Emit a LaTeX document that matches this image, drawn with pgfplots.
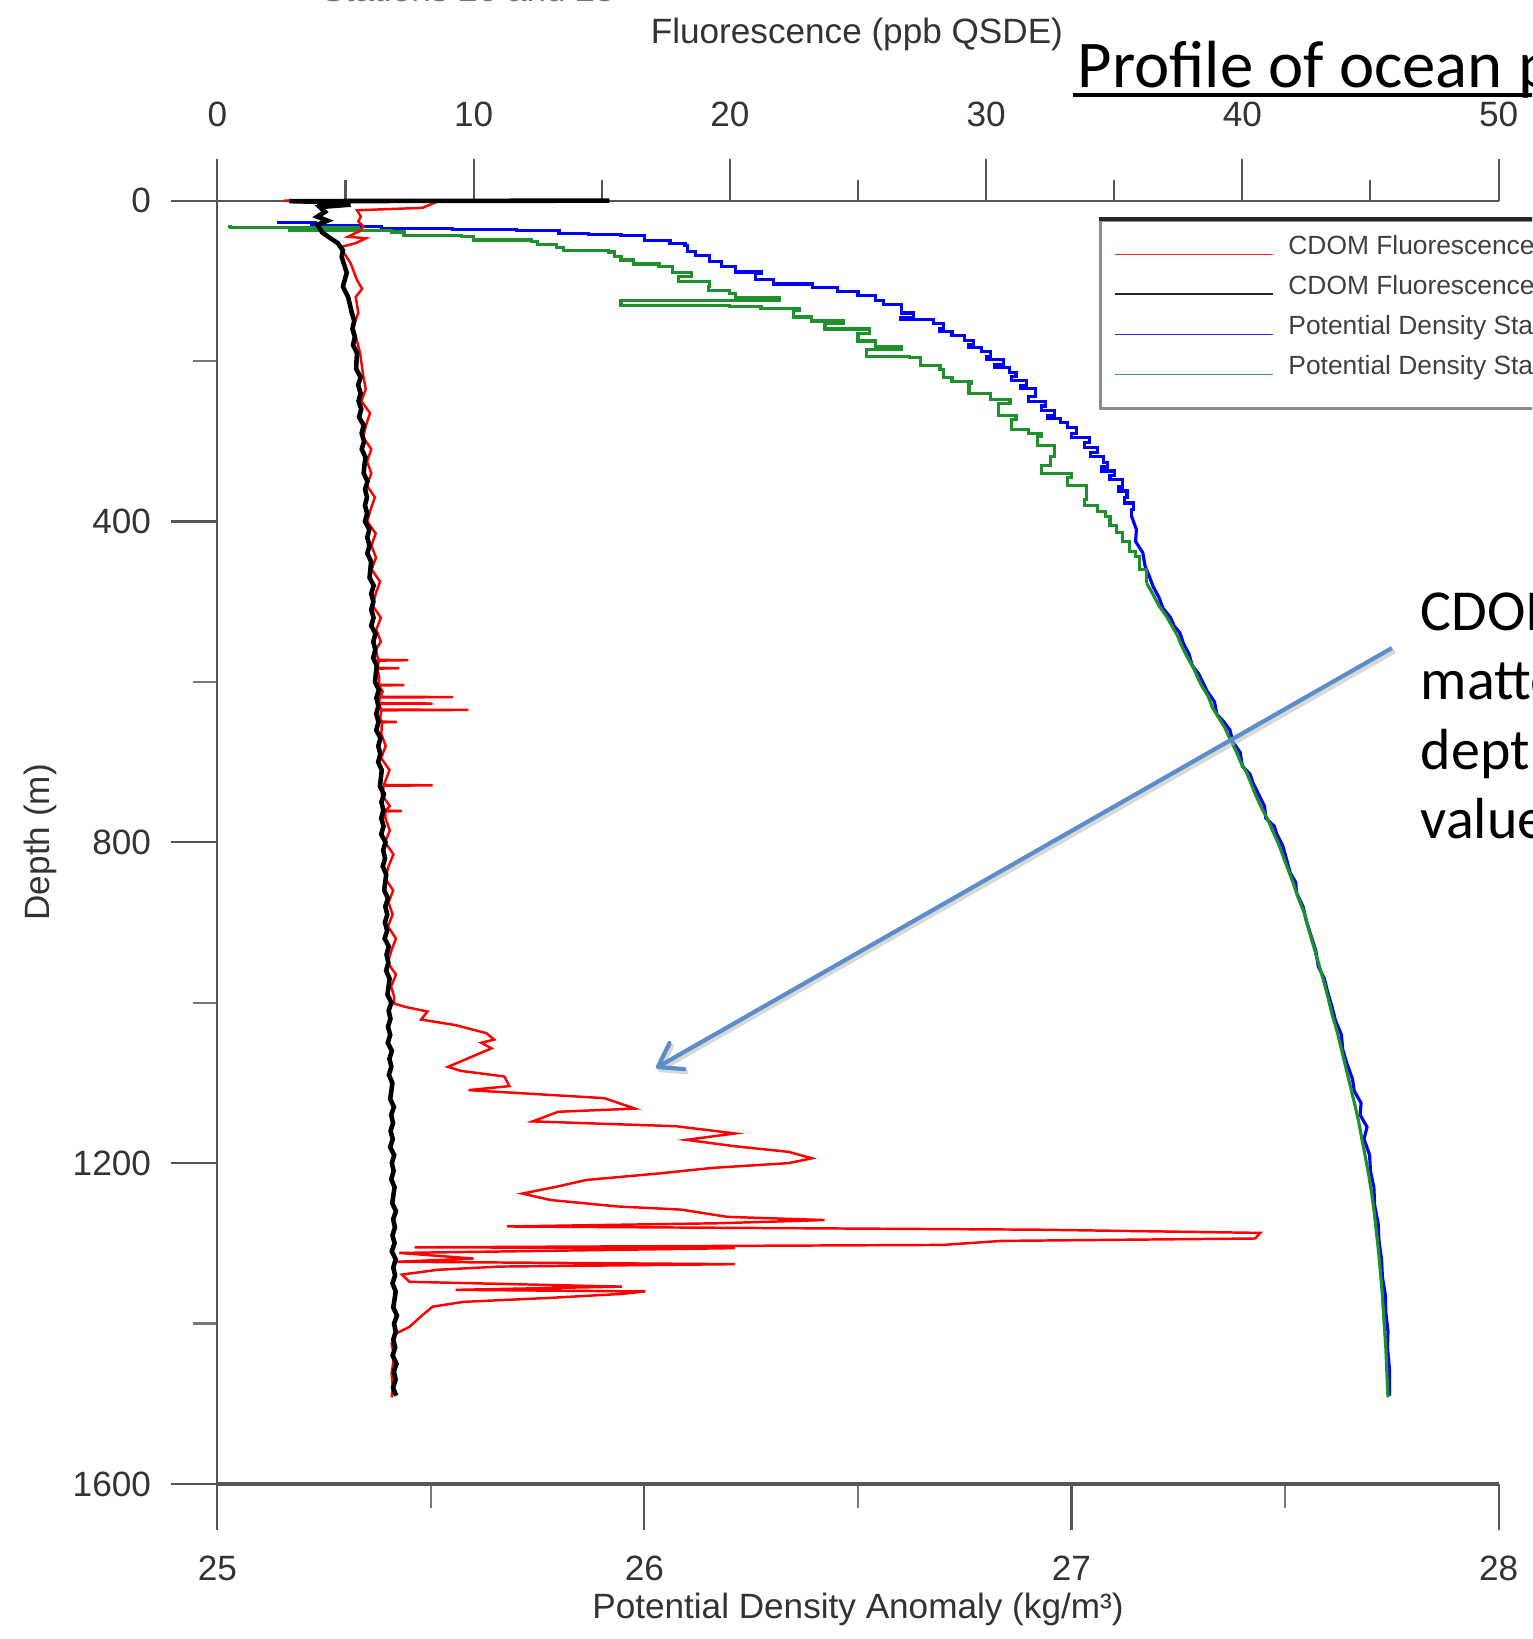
\documentclass[border=0pt]{standalone}
\usepackage{pgfplots}
\pgfplotsset{compat=1.18}
\usepackage{fontspec}
\setmainfont{Liberation Sans}
\newfontfamily\calibri{Carlito}
\usetikzlibrary{arrows.meta}
\definecolor{dgreen}{RGB}{30,145,45}
\definecolor{arrowblue}{RGB}{91,142,201}
\definecolor{axgray}{RGB}{85,85,85}
\begin{document}
\begin{tikzpicture}
\useasboundingbox (0,0) rectangle (15.32,-16.39);
\clip (0,0) rectangle (15.32,-16.39);
\fill[white] (0,0) rectangle (15.32,-16.39);

% ---------- density axis (bottom) ----------
\begin{axis}[
  at={(2.1736cm,-14.839cm)}, anchor=south west,
  scale only axis, width=12.812cm, height=12.833cm,
  xmin=25, xmax=28, ymin=0, ymax=1600, y dir=reverse,
  axis x line*=bottom, axis y line*=left,
  tick align=outside,
  xtick={25,26,27,28}, minor xtick={25.5,26.5,27.5},
  ytick={0,400,800,1200,1600}, minor ytick={200,600,1000,1400},
  major tick length=0.46cm, minor tick length=0.245cm,
  every major tick/.append style={axgray, line width=0.6pt},
  every minor tick/.append style={axgray!80, line width=0.6pt},
  x axis line style={axgray, line width=1.2pt},
  y axis line style={axgray, line width=0.6pt},
  /pgf/number format/assume math mode=true,
  /pgf/number format/1000 sep={},
  ticklabel style={font=\fontsize{10}{12}\selectfont, text=black!80},
  xticklabel style={yshift=-0.14cm},
  yticklabel style={xshift=-0.08cm},
  xlabel={Potential Density Anomaly (kg/m³)},
  xlabel style={at={(axis description cs:0.5,-0.0974)}, anchor=center, font=\fontsize{10}{12}\selectfont, text=black!80},
  ylabel={Depth (m)},
  ylabel style={at={(axis description cs:-0.1382,0.5)}, anchor=center, font=\fontsize{10}{12}\selectfont, text=black!80},
  clip=false,
]
% Potential density station 26 (blue), upper part
\addplot[blue, line width=0.9pt, const plot, forget plot] coordinates {
(25.14,27) (25.23,28) (25.22,31) (25.33,32) (25.385,35) (25.55,36) (25.70,37) (25.80,41) (25.87,42) (25.945,43.5)
(26.00,50) (26.06,53) (26.095,56) (26.10,63) (26.12,68) (26.153,76) (26.18,82) (26.214,89) (26.273,91) (26.26,98)
(26.303,104) (26.393,108) (26.453,113) (26.50,118) (26.542,124) (26.56,130) (26.602,140) (26.63,146) (26.60,148) (26.676,153)
(26.70,160) (26.69,163) (26.72,168) (26.75,174) (26.77,180) (26.76,183) (26.79,188) (26.811,194) (26.80,198) (26.84,204)
(26.82,208) (26.855,214) (26.87,219) (26.86,224) (26.895,230) (26.88,234) (26.916,244) (26.90,250) (26.94,256) (26.93,262)
(26.96,268) (26.945,272) (26.975,277) (26.99,283) (27.012,290) (27.00,295) (27.043,302) (27.03,308) (27.06,314) (27.045,319)
(27.075,326) (27.085,332) (27.07,337) (27.10,343) (27.09,348) (27.12,357) (27.11,362) (27.13,370) (27.125,377) (27.145,385)
(27.141,394)
};
% blue, lower part
\addplot[blue, line width=0.9pt, forget plot] coordinates {
(27.141,394) (27.152,410) (27.150,425) (27.167,439) (27.172,455) (27.182,468) (27.191,481) (27.205,495) (27.214,508) (27.232,520)
(27.240,530) (27.254,539) (27.262,552) (27.275,565) (27.283,580) (27.298,590) (27.308,601) (27.318,612) (27.335,625) (27.34,640)
(27.357,650) (27.371,660) (27.378,675) (27.395,688) (27.400,705) (27.418,715) (27.425,726) (27.438,740) (27.452,755) (27.455,770)
(27.475,780) (27.48,789) (27.495,805) (27.503,820) (27.512,838) (27.525,850) (27.527,863) (27.542,880) (27.55,898) (27.56,915)
(27.572,935) (27.578,955) (27.592,970) (27.60,987) (27.61,1005) (27.618,1022) (27.632,1040) (27.635,1058) (27.645,1076) (27.658,1095)
(27.662,1110) (27.678,1125) (27.676,1140) (27.692,1155) (27.685,1170) (27.698,1190) (27.70,1210) (27.708,1230) (27.71,1253) (27.718,1275)
(27.72,1297) (27.726,1320) (27.728,1342) (27.735,1365) (27.736,1386) (27.741,1410) (27.74,1430) (27.745,1460) (27.745,1490)
};
% Potential density station 28 (green), upper part
\addplot[dgreen, line width=0.9pt, const plot, forget plot] coordinates {
(25.026,32) (25.03,34) (25.33,36) (25.17,37.5) (25.407,39) (25.437,43) (25.572,45) (25.60,49) (25.736,51) (25.75,55)
(25.795,58) (25.81,62) (25.915,64) (25.93,70) (25.945,74) (25.975,79) (26.034,82) (26.065,90) (26.11,95) (26.08,101)
(26.153,107) (26.15,112) (26.20,116) (26.214,121) (26.317,124) (25.945,131) (26.20,132) (26.273,135) (26.363,137) (26.35,145)
(26.392,150) (26.467,153) (26.423,160) (26.527,166) (26.50,175) (26.542,182) (26.602,186) (26.52,194) (26.62,196) (26.647,206)
(26.692,211) (26.70,220) (26.72,225) (26.766,228) (26.76,240) (26.81,248) (26.856,253) (26.83,268) (26.87,273) (26.86,285)
(26.90,290) (26.93,294) (26.92,305) (26.96,319) (26.95,330) (26.93,340) (27.00,345) (26.99,355) (27.035,373) (27.03,380)
(27.06,388) (27.08,394) (27.09,405) (27.106,414) (27.12,425) (27.135,437) (27.149,444) (27.16,460) (27.176,477)
};
% green, lower part
\addplot[dgreen, line width=0.9pt, forget plot] coordinates {
(27.176,477) (27.19,490) (27.205,505) (27.222,518) (27.235,530) (27.248,542) (27.258,555) (27.27,568) (27.285,582) (27.296,595)
(27.305,605) (27.32,618) (27.33,632) (27.345,645) (27.36,658) (27.372,672) (27.385,686) (27.396,700) (27.41,713) (27.42,726)
(27.432,742) (27.445,757) (27.46,772) (27.472,787) (27.485,802) (27.496,818) (27.508,835) (27.52,852) (27.53,868) (27.545,888)
(27.555,908) (27.566,928) (27.578,950) (27.59,972) (27.60,992) (27.61,1014) (27.622,1036) (27.632,1058) (27.642,1080) (27.652,1102)
(27.662,1124) (27.672,1147) (27.68,1170) (27.688,1192) (27.696,1215) (27.703,1238) (27.709,1262) (27.714,1286) (27.719,1310) (27.723,1334)
(27.727,1358) (27.73,1382) (27.733,1406) (27.736,1430) (27.738,1455) (27.74,1480) (27.741,1492)
};
\end{axis}

% ---------- fluorescence axis (top) ----------
\begin{axis}[
  at={(2.1736cm,-14.839cm)}, anchor=south west,
  scale only axis, width=12.812cm, height=12.833cm,
  xmin=0, xmax=50, ymin=0, ymax=1600, y dir=reverse,
  axis x line*=top, axis y line=none, ytick=\empty,
  tick align=outside,
  xtick={0,10,20,30,40,50}, minor xtick={5,15,25,35,45},
  major tick length=0.42cm, minor tick length=0.21cm,
  every major tick/.append style={axgray, line width=0.6pt},
  every minor tick/.append style={axgray, line width=0.6pt},
  x axis line style={axgray, line width=0.6pt},
  /pgf/number format/assume math mode=true,
  ticklabel style={font=\fontsize{10}{12}\selectfont, text=black!80},
  xticklabel style={yshift=0.195cm},
  xlabel={Fluorescence (ppb QSDE)},
  xlabel style={at={(axis description cs:0.4992,1.1295)}, anchor=center, font=\fontsize{10}{12}\selectfont, text=black!80},
  clip=false,
  legend cell align=left,
  legend style={at={(0.6881,0.9857)}, anchor=north west, draw=black!45, line width=0.8pt, fill=white,
    font=\fontsize{7.5}{9}\selectfont, text=black!75, inner xsep=0.14cm, inner ysep=0.14cm,
    row sep=0pt, column sep=0.14cm,
    nodes={inner sep=0pt, text height=0.2cm, text depth=0.2cm, anchor=west}},
  legend image code/.code={\draw[#1] (0cm,0cm) -- (1.58cm,0cm);},
]
% CDOM fluorescence station 26 (red)
\addplot[red, line width=0.7pt, forget plot] coordinates {
(2.6,0) (8.6,1) (8.3,5) (8.0,9) (5.45,12) (5.6,20) (5.5,26) (5.7,32) (5.55,38) (5.1,45)
(5.8,47) (5.4,53) (4.8,58) (5.0,68) (5.2,78) (5.45,99) (5.65,110) (5.4,120) (5.5,140) (5.3,157)
(5.57,190) (5.7,220) (5.79,235) (5.62,250) (5.96,265) (5.80,280) (5.69,295) (6.01,310) (5.84,325) (6.01,340)
(5.83,355) (6.15,370) (5.98,385) (5.85,400) (6.18,415) (6.01,430) (6.19,445) (6.02,460) (6.35,475) (6.18,490)
(6.06,505) (6.38,520) (6.20,535) (6.38,550) (6.18,560) (6.28,572.5) (7.45,573) (6.30,573.5) (6.25,582.5) (7.1,583)
(6.25,583.5) (6.32,595) (6.30,603.5) (7.3,604) (6.30,604.5) (6.45,612) (6.35,618.5) (9.2,619) (6.35,619.5) (6.30,626.5)
(8.4,627) (6.30,627.5) (6.40,634.5) (9.8,635) (6.40,635.5) (6.35,645) (6.42,649.5) (7.0,650) (6.42,650.5) (6.40,665)
(6.57,680) (6.39,695) (6.72,710) (6.54,725) (6.50,728.5) (8.4,729) (6.50,729.5) (6.41,740) (6.73,755) (6.55,760.5)
(7.2,761) (6.55,761.5) (6.56,770) (6.73,785) (6.55,800) (6.87,815) (6.68,830) (6.55,845) (6.86,860) (6.68,875)
(6.84,890) (6.66,905) (6.97,920) (6.79,935) (6.65,950) (6.97,965) (6.78,980) (6.9,992) (6.9,1001)
(7.3,1005) (8.2,1011) (7.95,1021) (9.3,1028) (10.5,1038) (10.8,1046) (10.3,1050) (10.7,1057) (10.1,1065) (9.0,1080)
(9.5,1085) (11.2,1092) (11.4,1104) (9.8,1109) (15.1,1119) (16.3,1132) (13.3,1136) (12.3,1148) (17.9,1154) (20.2,1163)
(18.3,1171) (20.2,1179) (22.3,1186) (23.2,1194) (22.3,1200) (19.3,1206) (17.2,1213) (14.4,1221) (13.3,1229) (11.9,1238)
(13.0,1246) (15.6,1254) (18.1,1258) (19.9,1267) (23.7,1271) (19.5,1275) (11.3,1279) (32.0,1283) (40.7,1287) (40.5,1294)
(30.6,1297) (28.3,1302) (7.7,1305) (20.2,1306) (7.1,1312) (10.0,1319) (7.0,1323) (20.2,1326) (11.0,1329) (8.6,1333)
(7.2,1339) (7.5,1348) (15.8,1354) (9.3,1358) (16.7,1360) (15.8,1363) (13.0,1368) (9.6,1373) (8.4,1379) (7.95,1391)
(7.5,1404) (7.0,1412) (6.8,1425) (6.9,1441) (6.8,1462) (6.85,1480) (6.8,1492)
};
% CDOM fluorescence station 28 (black)
\addplot[black, line width=1.3pt, forget plot] coordinates {
(15.3,0) (2.8,0.6) (4.5,2) (3.9,4) (5.2,5) (4.0,8) (4.2,14) (3.9,20) (4.3,25) (3.9,30)
(4.1,40) (4.7,53) (4.9,62) (4.85,70) (5.05,90) (4.9,107) (5.1,120) (5.25,140)
(5.34,150) (5.27,160) (5.365,170) (5.295,180) (5.45,190) (5.43,200) (5.42,210) (5.59,220) (5.495,230) (5.59,240)
(5.51,250) (5.615,260) (5.53,270) (5.71,280) (5.63,290) (5.725,300) (5.635,310) (5.78,320) (5.74,330) (5.71,340)
(5.86,350) (5.765,360) (5.84,370) (5.76,380) (5.845,390) (5.76,400) (5.93,410) (5.85,420) (5.935,430) (5.855,440)
(6.00,450) (5.97,460) (5.94,470) (6.10,480) (6.005,490) (6.09,500) (6.005,510) (6.095,520) (6.005,530) (6.17,540)
(6.085,550) (6.165,560) (6.08,570) (6.22,580) (6.185,590) (6.15,600) (6.305,610) (6.205,620) (6.285,630) (6.20,640)
(6.29,650) (6.20,660) (6.365,670) (6.28,680) (6.36,690) (6.275,700) (6.415,710) (6.38,720) (6.345,730) (6.50,740)
(6.40,750) (6.48,760) (6.395,770) (6.485,780) (6.395,790) (6.56,800) (6.47,810) (6.545,820) (6.455,830) (6.59,840)
(6.55,850) (6.51,860) (6.66,870) (6.555,880) (6.63,890) (6.54,900) (6.625,910) (6.53,920) (6.69,930) (6.60,940)
(6.675,950) (6.585,960) (6.72,970) (6.68,980) (6.64,990) (6.79,1000) (6.685,1010) (6.755,1020) (6.66,1030) (6.745,1040)
(6.65,1050) (6.81,1060) (6.715,1070) (6.79,1080) (6.695,1090) (6.83,1100) (6.79,1110) (6.745,1120) (6.89,1130) (6.785,1140)
(6.855,1150) (6.76,1160) (6.845,1170) (6.745,1180) (6.90,1190) (6.81,1200) (6.88,1210) (6.785,1220) (6.915,1230) (6.87,1240)
(6.825,1250) (6.97,1260) (6.86,1270) (6.93,1280) (6.835,1290) (6.915,1300) (6.81,1310) (6.96,1320) (6.865,1330) (6.935,1340)
(6.835,1350) (6.96,1360) (6.915,1370) (6.865,1380) (7.01,1390) (6.895,1400) (6.96,1410) (6.865,1420) (6.94,1430) (6.84,1440)
(6.99,1450) (6.89,1460) (6.955,1470) (6.855,1480) (6.98,1490)
};
\addlegendimage{red!85, line width=0.5pt}
\addlegendentry{CDOM Fluorescence Station 26}
\addlegendimage{black!85, line width=0.6pt}
\addlegendentry{CDOM Fluorescence Station 28}
\addlegendimage{blue!85, line width=0.5pt}
\addlegendentry{Potential Density Station 26}
\addlegendimage{dgreen!85, line width=0.5pt}
\addlegendentry{Potential Density Station 28}
\end{axis}

% legend top edge
\draw[black!85, line width=0.9pt] (10.99,-2.19) -- (15.5,-2.19);

% header texts
\node[anchor=base, inner sep=0pt, text=black!55, font=\fontsize{10}{12}\selectfont] at (4.68,-0.01) {Stations 26 and 28};
\node[anchor=base west, inner sep=0pt, font=\calibri\fontsize{19}{23}\selectfont] at (10.77,-0.87) {Profile of ocean parameters};
\draw[line width=0.034cm] (10.73,-0.95) -- (15.5,-0.95);

% annotation
\node[anchor=base west, inner sep=0pt, font=\calibri\fontsize{16.5}{20}\selectfont] at (14.20,-6.30) {CDOM (colored dissolved organic};
\node[anchor=base west, inner sep=0pt, font=\calibri\fontsize{16.5}{20}\selectfont] at (14.20,-6.995) {matter) increases at};
\node[anchor=base west, inner sep=0pt, font=\calibri\fontsize{16.5}{20}\selectfont] at (14.20,-7.69) {depth with high};
\node[anchor=base west, inner sep=0pt, font=\calibri\fontsize{16.5}{20}\selectfont] at (14.20,-8.385) {values};

% arrow
\draw[black!30, opacity=0.5, line width=0.045cm, -{Straight Barb[length=2.2mm,width=3mm,round]}] (13.95,-6.51) -- (6.58,-10.71);
\draw[arrowblue, line width=0.042cm, -{Straight Barb[length=2.2mm,width=3mm,round]}] (13.92,-6.48) -- (6.56,-10.68);
\end{tikzpicture}
\end{document}
